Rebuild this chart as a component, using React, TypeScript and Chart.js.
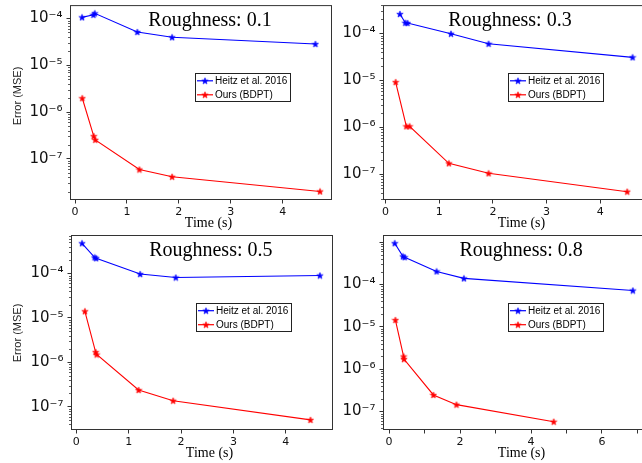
import React, { useEffect, useRef } from 'react';
import { Chart, registerables } from 'chart.js';

Chart.register(...registerables);

// ---------- data ----------
const seriesNames = ['Heitz et al. 2016', 'Ours (BDPT)'];
const panelTitles = ['Roughness: 0.1', 'Roughness: 0.3', 'Roughness: 0.5', 'Roughness: 0.8'];
const xAxisTitle = 'Time (s)';
const yAxisTitle = 'Error (MSE)';

// Roughness 0.1
const heitzTime01 = [0.135, 0.354, 0.38, 1.2, 1.87, 4.63];
const heitzErr01 = [1.05e-4, 1.19e-4, 1.28e-4, 5.1e-5, 3.94e-5, 2.83e-5];
const oursTime01 = [0.14, 0.36, 0.39, 1.24, 1.87, 4.72];
const oursErr01 = [1.97e-6, 3.05e-7, 2.54e-7, 5.9e-8, 4.13e-8, 2.01e-8];

// Roughness 0.3
const heitzTime03 = [0.27, 0.37, 0.41, 1.22, 1.92, 4.6];
const heitzErr03 = [2.58e-4, 1.68e-4, 1.66e-4, 9.8e-5, 6.0e-5, 3.09e-5];
const oursTime03 = [0.19, 0.39, 0.45, 1.18, 1.92, 4.5];
const oursErr03 = [9.2e-6, 1.05e-6, 1.05e-6, 1.71e-7, 1.05e-7, 4.27e-8];

// Roughness 0.5
const heitzTime05 = [0.11, 0.35, 0.38, 1.22, 1.9, 4.65];
const heitzErr05 = [4.79e-4, 2.3e-4, 2.2e-4, 9.7e-5, 8.1e-5, 9.0e-5];
const oursTime05 = [0.165, 0.37, 0.39, 1.19, 1.85, 4.47];
const oursErr05 = [1.41e-5, 1.7e-6, 1.5e-6, 2.38e-7, 1.37e-7, 5.07e-8];

// Roughness 0.8
const heitzTime08 = [0.16, 0.39, 0.44, 1.34, 2.11, 6.87];
const heitzErr08 = [9.4e-4, 4.6e-4, 4.4e-4, 2.03e-4, 1.39e-4, 7.2e-5];
const oursTime08 = [0.18, 0.41, 0.42, 1.25, 1.9, 4.64];
const oursErr08 = [1.45e-5, 2.0e-6, 1.73e-6, 2.47e-7, 1.46e-7, 5.77e-8];

const heitzTimes = [heitzTime01, heitzTime03, heitzTime05, heitzTime08];
const heitzErrs = [heitzErr01, heitzErr03, heitzErr05, heitzErr08];
const oursTimes = [oursTime01, oursTime03, oursTime05, oursTime08];
const oursErrs = [oursErr01, oursErr03, oursErr05, oursErr08];

// ticks
const xTickValues = [[0, 1, 2, 3, 4], [0, 1, 2, 3, 4], [0, 1, 2, 3, 4], [0, 1, 2, 3, 4, 5, 6, 7]];
const xTickLabelled = [[0, 1, 2, 3, 4], [0, 1, 2, 3, 4], [0, 1, 2, 3, 4], [0, 2, 4, 6]];
const yMajorExps = [[-7, -6, -5, -4], [-7, -6, -5, -4], [-7, -6, -5, -4], [-7, -6, -5, -4, -3]];
const yLabelledExps = [[-7, -6, -5, -4], [-7, -6, -5, -4], [-7, -6, -5, -4], [-7, -6, -5, -4]];

// axis ranges
const xRanges = [[-0.097, 4.95], [-0.045, 4.85], [-0.1, 4.9], [-0.17, 7.24]];
const yRanges = [[1.32e-8, 1.92e-4], [2.84e-8, 4.0e-4], [3.12e-8, 7.35e-4], [3.68e-8, 1.47e-3]];

// ---------- layout ----------
const CW = 660;
const CH = 463;
const areas = [
  { l: 70, t: 5, r: 332, b: 200 },
  { l: 383, t: 5, r: 646, b: 200 },
  { l: 71, t: 235, r: 333, b: 430 },
  { l: 383, t: 235, r: 646, b: 430 },
];
const titleDx = [140, 127, 139.8, 138.2];
const yTitleCenter = [96, 0, 333, 0];
const showYTitle = [true, false, true, false];
const YW = 50;
const XH = 25;

const BLUE = '#0000ff';
const RED = '#ff0000';
const AXIS = '#333333';

const SUP: Record<string, string> = {
  '-': '\u207B', '0': '\u2070', '1': '\u00B9', '2': '\u00B2', '3': '\u00B3',
  '4': '\u2074', '5': '\u2075', '6': '\u2076', '7': '\u2077', '8': '\u2078', '9': '\u2079',
};
function powLabel(e: number) {
  return '10' + String(e).split('').map((c) => SUP[c] || c).join('');
}

function makeStar(color: string) {
  const c = document.createElement('canvas');
  const s = 8;
  c.width = s;
  c.height = s;
  const g = c.getContext('2d')!;
  const R = 3.4;
  const r = R * 0.42;
  g.beginPath();
  for (let k = 0; k < 10; k++) {
    const a = -Math.PI / 2 + (k * Math.PI) / 5;
    const rad = k % 2 === 0 ? R : r;
    g.lineTo(s / 2 + rad * Math.cos(a), s / 2 + 0.3 + rad * Math.sin(a));
  }
  g.closePath();
  g.fillStyle = color;
  g.fill();
  g.strokeStyle = color;
  g.lineWidth = 0.6;
  g.stroke();
  return c;
}

function makeDecor(i: number, stars: HTMLCanvasElement[]) {
  return {
    id: 'decor' + i,
    afterDraw(chart: any) {
      const ctx = chart.ctx as CanvasRenderingContext2D;
      const a = chart.chartArea;
      const ys = chart.scales.y;
      ctx.save();
      // minor ticks
      ctx.strokeStyle = AXIS;
      ctx.lineWidth = 0.8;
      const [ymin, ymax] = yRanges[i];
      for (let e = Math.floor(Math.log10(ymin)); e <= Math.ceil(Math.log10(ymax)); e++) {
        for (let k = 2; k <= 9; k++) {
          const v = k * Math.pow(10, e);
          if (v < ymin || v > ymax) continue;
          const py = Math.round(ys.getPixelForValue(v)) + 0.5;
          ctx.beginPath();
          ctx.moveTo(a.left - 2, py);
          ctx.lineTo(a.left, py);
          ctx.stroke();
        }
      }
      // frame
      ctx.lineWidth = 1;
      ctx.strokeRect(a.left + 0.5, a.top + 0.5, a.right - a.left - 1, a.bottom - a.top - 1);

      // title
      ctx.fillStyle = '#000';
      ctx.font = '20px "Liberation Serif", "Times New Roman", serif';
      ctx.textAlign = 'center';
      ctx.textBaseline = 'alphabetic';
      ctx.fillText(panelTitles[i], a.left + titleDx[i], a.top + 20.5);

      // x title
      ctx.font = '14px "Liberation Serif", "Times New Roman", serif';
      ctx.fillText(xAxisTitle, a.left + 138.5, a.bottom + 26.8);

      // y title
      if (showYTitle[i]) {
        ctx.save();
        ctx.translate(17.5, yTitleCenter[i]);
        ctx.rotate(-Math.PI / 2);
        ctx.font = '11px "Liberation Sans", Arial, sans-serif';
        ctx.textBaseline = 'middle';
        ctx.textAlign = 'center';
        ctx.fillStyle = '#222';
        ctx.fillText(yAxisTitle, 0, 0);
        ctx.restore();
      }

      // legend
      const lx = a.left + 125;
      const ly = a.top + 68;
      ctx.fillStyle = '#fff';
      ctx.fillRect(lx, ly, 95, 28.5);
      ctx.strokeStyle = '#222';
      ctx.lineWidth = 1;
      ctx.strokeRect(Math.round(lx) + 0.5, Math.round(ly) + 0.5, 95, 28);
      const colors = [BLUE, RED];
      const rows = [7.7, 21.7];
      for (let k = 0; k < 2; k++) {
        const ry = ly + rows[k];
        ctx.strokeStyle = colors[k];
        ctx.lineWidth = 1.2;
        ctx.beginPath();
        ctx.moveTo(lx + 2, ry);
        ctx.lineTo(lx + 18, ry);
        ctx.stroke();
        ctx.drawImage(stars[k], lx + 10 - 4, ry - 4);
        ctx.fillStyle = '#000';
        ctx.font = '10px "Liberation Sans", Arial, sans-serif';
        ctx.textAlign = 'left';
        ctx.textBaseline = 'middle';
        ctx.fillText(seriesNames[k], lx + 20, ry + 0.5);
      }
      ctx.restore();
    },
  };
}

function Panel({ i }: { i: number }) {
  const ref = useRef<HTMLCanvasElement | null>(null);
  useEffect(() => {
    if (!ref.current) return;
    const stars = [makeStar(BLUE), makeStar(RED)];
    const area = areas[i];
    const chart = new Chart(ref.current, {
      type: 'line',
      data: {
        datasets: [
          {
            label: seriesNames[0],
            data: heitzTimes[i].map((t, k) => ({ x: t, y: heitzErrs[i][k] })),
            borderColor: BLUE,
            backgroundColor: BLUE,
            borderWidth: 1.1,
            pointStyle: stars[0] as any,
            pointRadius: 4,
            tension: 0,
          },
          {
            label: seriesNames[1],
            data: oursTimes[i].map((t, k) => ({ x: t, y: oursErrs[i][k] })),
            borderColor: RED,
            backgroundColor: RED,
            borderWidth: 1.1,
            pointStyle: stars[1] as any,
            pointRadius: 4,
            tension: 0,
          },
        ],
      },
      options: {
        animation: false,
        responsive: false,
        events: [],
        layout: {
          padding: {
            left: area.l - YW,
            top: area.t,
            right: CW - area.r,
            bottom: CH - area.b - XH,
          },
        },
        scales: {
          x: {
            type: 'linear',
            min: xRanges[i][0],
            max: xRanges[i][1],
            afterBuildTicks: (s: any) => {
              s.ticks = xTickValues[i].map((v) => ({ value: v }));
            },
            afterFit: (s: any) => {
              s.height = XH;
              s.paddingLeft = 0;
              s.paddingRight = 0;
            },
            border: { display: false },
            grid: { drawOnChartArea: false, tickLength: 3.5, color: AXIS, tickColor: AXIS, lineWidth: 1 },
            ticks: {
              autoSkip: false,
              maxRotation: 0,
              padding: 2,
              color: '#111',
              font: { family: '"DejaVu Sans", sans-serif', size: 11 },
              callback: (v: any) => (xTickLabelled[i].includes(Number(v)) ? String(v) : ''),
            },
          },
          y: {
            type: 'logarithmic',
            min: yRanges[i][0],
            max: yRanges[i][1],
            afterBuildTicks: (s: any) => {
              s.ticks = yMajorExps[i].map((e) => ({ value: Math.pow(10, e) }));
            },
            afterFit: (s: any) => {
              s.width = YW;
              s.paddingTop = 0;
              s.paddingBottom = 0;
            },
            border: { display: false },
            grid: { drawOnChartArea: false, tickLength: 3.5, color: AXIS, tickColor: AXIS, lineWidth: 1 },
            ticks: {
              autoSkip: false,
              padding: 4,
              color: '#111',
              font: { family: '"DejaVu Sans", sans-serif', size: 15 },
              callback: (v: any) => {
                const e = Math.round(Math.log10(Number(v)));
                return yLabelledExps[i].includes(e) ? powLabel(e) : '';
              },
            },
          },
        },
        plugins: {
          legend: { display: false },
          title: { display: false },
          tooltip: { enabled: false },
        },
      },
      plugins: [makeDecor(i, stars)],
    } as any);
    return () => chart.destroy();
  }, [i]);
  return (
    <canvas
      ref={ref}
      width={CW}
      height={CH}
      style={{ position: 'absolute', left: 0, top: 0, width: CW, height: CH }}
    />
  );
}

export default function App() {
  return (
    <div
      style={{
        position: 'fixed',
        left: 0,
        top: 0,
        width: 642,
        height: 463,
        overflow: 'hidden',
        background: '#fff',
      }}
    >
      {[0, 1, 2, 3].map((i) => (
        <Panel key={i} i={i} />
      ))}
    </div>
  );
}
